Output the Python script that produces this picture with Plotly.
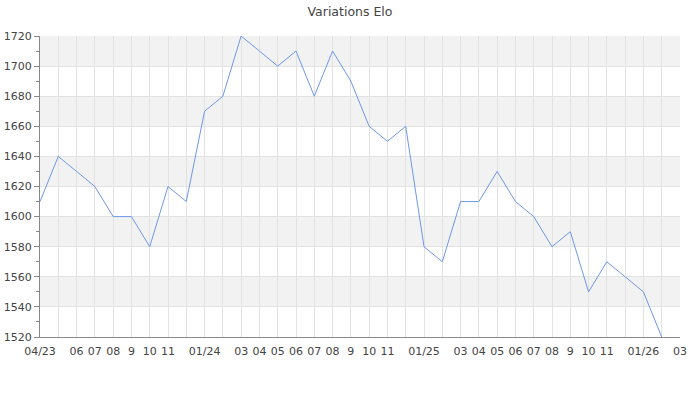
import plotly.graph_objects as go

months = ["2023-04", "2023-05", "2023-06", "2023-07", "2023-08", "2023-09", "2023-10", "2023-11", "2023-12",
          "2024-01", "2024-02", "2024-03", "2024-04", "2024-05", "2024-06", "2024-07", "2024-08", "2024-09",
          "2024-10", "2024-11", "2024-12", "2025-01", "2025-02", "2025-03", "2025-04", "2025-05", "2025-06",
          "2025-07", "2025-08", "2025-09", "2025-10", "2025-11", "2025-12", "2026-01", "2026-02"]
elo = [1610, 1640, 1630, 1620, 1600, 1600, 1580, 1620, 1610,
       1670, 1680, 1720, 1710, 1700, 1710, 1680, 1710, 1690,
       1660, 1650, 1660, 1580, 1570, 1610, 1610, 1630, 1610,
       1600, 1580, 1590, 1550, 1570, 1560, 1550, 1520]

tick_months = months + ["2026-03"]
tick_labels = ["04/23", "", "06", "07", "08", "9", "10", "11", "",
               "01/24", "", "03", "04", "05", "06", "07", "08", "9",
               "10", "11", "", "01/25", "", "03", "04", "05", "06",
               "07", "08", "9", "10", "11", "", "01/26", "", "03"]
y_ticks = [1520, 1540, 1560, 1580, 1600, 1620, 1640, 1660, 1680, 1700, 1720]

x_idx = list(range(len(months)))
tick_idx = list(range(len(tick_months)))

fig = go.Figure()
fig.add_trace(go.Scatter(x=x_idx, y=elo, mode="lines",
                         line=dict(color="#6d98ec", width=1), hoverinfo="y"))

shapes = []
for i in range(len(y_ticks) - 1):
    if (len(y_ticks) - 2 - i) % 2 == 0:
        shapes.append(dict(type="rect", xref="paper", yref="y", x0=0, x1=1,
                           y0=y_ticks[i], y1=y_ticks[i + 1],
                           fillcolor="#f2f2f2", line=dict(width=0), layer="below"))

W, H = 700, 400
fig.update_layout(
    width=W, height=H,
    margin=dict(l=40, r=20, t=36, b=63),
    paper_bgcolor="white", plot_bgcolor="white",
    font=dict(family="DejaVu Sans", size=11, color="#444"),
    title=dict(text="Variations Elo", x=0.5, xanchor="center", y=1 - 12 / H, yanchor="middle",
               font=dict(family="DejaVu Sans", size=12.5, color="#444")),
    showlegend=False,
    shapes=shapes,
    xaxis=dict(range=[0, len(tick_months) - 1], tickmode="array", tickvals=tick_idx, ticktext=tick_labels,
               showgrid=True, gridcolor="#e2e2e2", gridwidth=1, showline=True, linecolor="#888",
               linewidth=1, ticks="outside", ticklen=4, tickcolor="rgba(0,0,0,0)",
               zeroline=False, tickangle=0, automargin=False),
    yaxis=dict(range=[1520, 1720], tickmode="array", tickvals=y_ticks,
               showgrid=True, gridcolor="#e2e2e2", gridwidth=1, showline=True, linecolor="#888",
               linewidth=1, ticks="outside", ticklen=5, tickcolor="#888", zeroline=False, automargin=False,
               minor=dict(dtick=10, ticks="outside", ticklen=3, tickcolor="#888", showgrid=False)),
)

fig.write_html("out.html", config={"displayModeBar": False},
               post_script="document.body.style.margin='0';")
